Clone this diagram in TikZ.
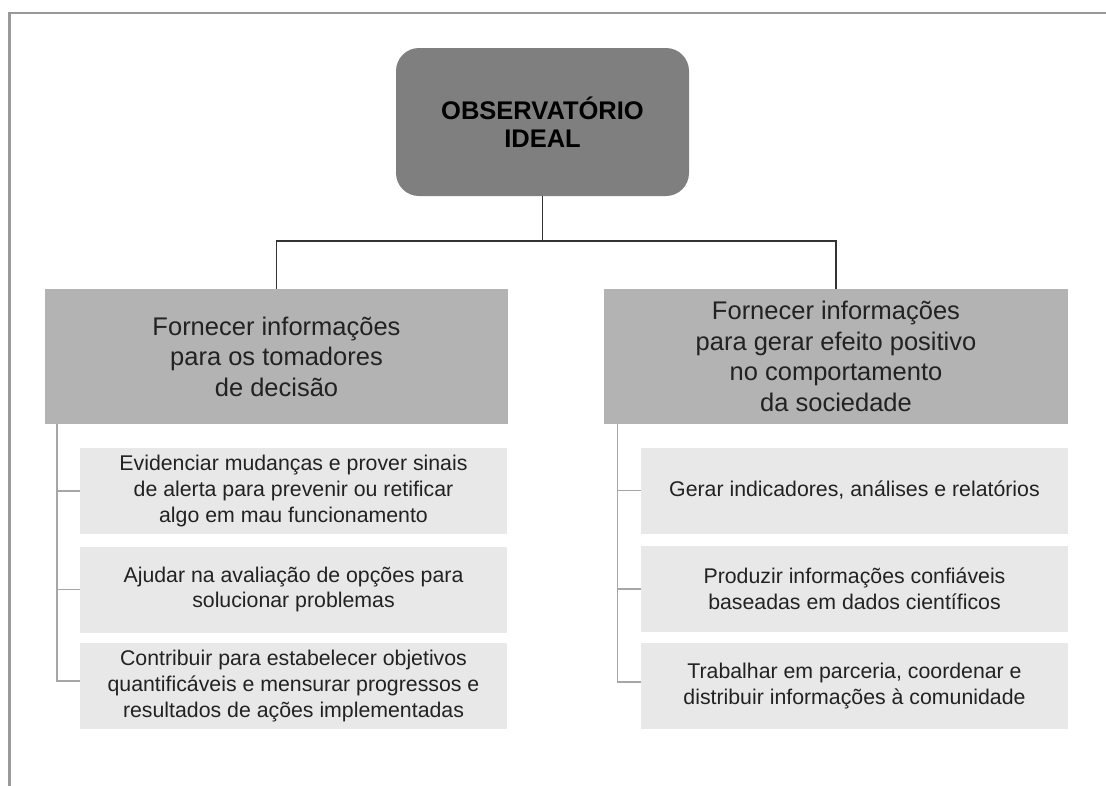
\documentclass[tikz,border=0pt]{standalone}
\usepackage{fontspec}
\setmainfont{Liberation Sans}
\definecolor{topfill}{HTML}{7F7F7F}
\definecolor{midfill}{HTML}{B3B3B3}
\definecolor{lowfill}{HTML}{E8E8E8}
\definecolor{treeline}{HTML}{A6A6A6}
\definecolor{connline}{HTML}{333333}
\definecolor{framecol}{HTML}{999999}
\definecolor{txt}{HTML}{222222}
\begin{document}
\begin{tikzpicture}[x=1pt,y=-1pt,
  topbox/.style={fill=topfill, rounded corners=23pt, minimum width=293pt, minimum height=148pt,
    inner sep=0pt, align=center, text=black, font=\fontsize{25.5}{28.5}\selectfont\bfseries},
  midbox/.style={fill=midfill, minimum height=135pt, inner sep=0pt, align=center, text=txt,
    font=\fontsize{25.5}{30.5}\selectfont},
  lowbox/.style={fill=lowfill, minimum width=427pt, minimum height=86pt, inner sep=0pt, align=center,
    text=txt, font=\fontsize{21.3}{25.8}\selectfont},
  conn/.style={draw=connline, line width=1.3pt},
  tree/.style={draw=treeline, line width=1.5pt},
  frameline/.style={draw=framecol, line width=2.5pt}]
\useasboundingbox (0,0) rectangle (1106,785);
\draw[frameline] (9.5,786) -- (9.5,13) -- (1107,13);

\node[topbox] (top) at (542.5,122) {OBSERVATÓRIO\\IDEAL};

\node[midbox, minimum width=463pt] (A) at (276.5,356.5) {Fornecer informações\\para os tomadores\\de decisão};
\node[midbox, minimum width=464pt] (B) at (836,356.5) {Fornecer informações\\para gerar efeito positivo\\no comportamento\\da sociedade};

\node[lowbox] (L1) at (293.5,491) {Evidenciar mudanças e prover sinais\\de alerta para prevenir ou retificar\\algo em mau funcionamento};
\node[lowbox] (L2) at (293.5,589.5) {Ajudar na avaliação de opções para\\solucionar problemas};
\node[lowbox] (L3) at (293.5,686) {Contribuir para estabelecer objetivos\\quantificáveis e mensurar progressos e\\resultados de ações implementadas};

\node[lowbox] (R1) at (854.5,490.5) {Gerar indicadores, análises e relatórios};
\node[lowbox] (R2) at (854.5,589) {Produzir informações confiáveis\\baseadas em dados científicos};
\node[lowbox] (R3) at (854.5,686) {Trabalhar em parceria, coordenar e\\distribuir informações à comunidade};

\coordinate (j) at (542.5,241);
\draw[conn] (top.south) -- (j);
\draw[conn] (A.north) |- (j) -| (B.north);

\coordinate (ta) at ([xshift=12pt]A.south west);
\draw[tree] (ta) |- ([yshift=5pt]L3.west);
\draw[tree] (ta |- L1.west) -- (L1.west);
\draw[tree] (ta |- L2.west) -- (L2.west);

\coordinate (tb) at ([xshift=13.5pt]B.south west);
\draw[tree] (tb) |- ([yshift=4pt]R3.west);
\draw[tree] (tb |- R1.west) -- (R1.west);
\draw[tree] (tb |- R2.west) -- (R2.west);
\end{tikzpicture}
\end{document}
